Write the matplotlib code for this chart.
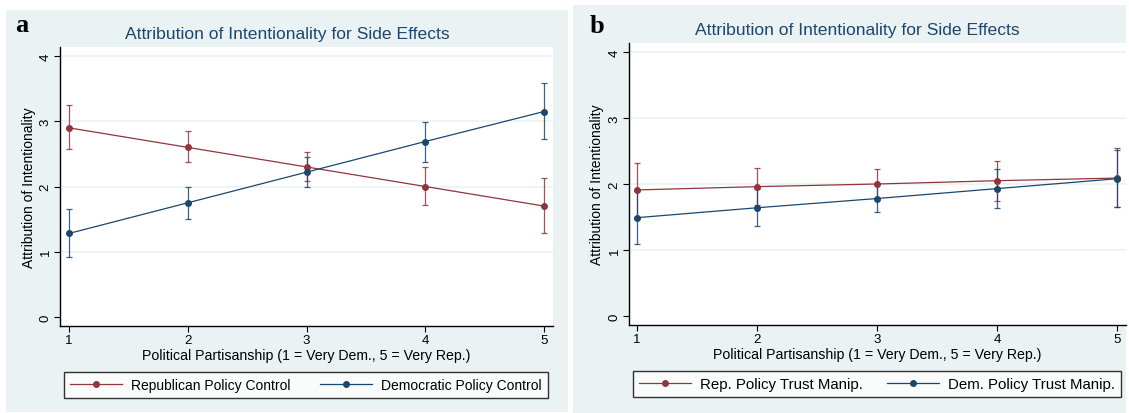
import numpy as np
import matplotlib
matplotlib.use('Agg')
import matplotlib.pyplot as plt
from matplotlib.patches import Rectangle

plt.rcParams['font.family'] = ['Liberation Sans', 'DejaVu Sans']

# data
x = [1, 2, 3, 4, 5]

# panel a
rep_ctrl = [2.90, 2.60, 2.30, 2.00, 1.70]
rep_ctrl_lo = [2.57, 2.37, 2.08, 1.71, 1.28]
rep_ctrl_hi = [3.25, 2.85, 2.53, 2.30, 2.13]
dem_ctrl = [1.28, 1.75, 2.22, 2.69, 3.15]
dem_ctrl_lo = [0.92, 1.50, 2.00, 2.38, 2.73]
dem_ctrl_hi = [1.65, 2.00, 2.45, 2.99, 3.59]

# panel b
rep_trust = [1.91, 1.96, 2.00, 2.05, 2.09]
rep_trust_lo = [1.50, 1.68, 1.77, 1.74, 1.65]
rep_trust_hi = [2.32, 2.24, 2.23, 2.35, 2.54]
dem_trust = [1.49, 1.64, 1.78, 1.93, 2.08]
dem_trust_lo = [1.09, 1.36, 1.57, 1.64, 1.65]
dem_trust_hi = [1.89, 1.92, 2.00, 2.23, 2.51]

title = 'Attribution of Intentionality for Side Effects'
xlab = 'Political Partisanship (1 = Very Dem., 5 = Very Rep.)'
ylab = 'Attribution of Intentionality'

RED = '#90353b'
BLUE = '#1a476f'
BG = '#eaf2f3'
W, H = 1129, 414

fig = plt.figure(figsize=(W / 100, H / 100), dpi=100)
fig.patch.set_facecolor('white')


def px(x0, y0, x1, y1):
  return [x0 / W, 1 - y1 / H, (x1 - x0) / W, (y1 - y0) / H]


def panel(bg, axrect, xlim, ylim, series, labels, leg_c, leg_fs, leg_cs,
          letter, letter_xy, title_xy):
  r = px(*bg)
  fig.patches.append(Rectangle((r[0], r[1]), r[2], r[3], transform=fig.transFigure,
                               facecolor=BG, edgecolor='none', zorder=-10))
  ax = fig.add_axes(px(*axrect))
  ax.set_facecolor('white')
  for (y, lo, hi), col, lab in zip(series, [RED, BLUE], labels):
    y = np.array(y)
    err = [y - np.array(lo), np.array(hi) - y]
    ax.errorbar(x, y, yerr=err, fmt='none', ecolor=col, elinewidth=0.9,
                capsize=2.5, capthick=0.9, alpha=0.85, zorder=2)
    ax.plot(x, y, color=col, lw=0.9, marker='o', ms=4, label=lab, zorder=3)
  ax.set_xlim(*xlim)
  ax.set_ylim(*ylim)
  ax.set_xticks(x)
  ax.set_yticks([0, 1, 2, 3, 4])
  for v in [1, 2, 3, 4]:
    ax.axhline(v, color=BG, lw=1.2, zorder=0)
  for s in ['top', 'right']:
    ax.spines[s].set_visible(False)
  for s in ['left', 'bottom']:
    ax.spines[s].set_linewidth(1.0)
  ax.tick_params(direction='out', length=4, width=0.8, labelsize=9.5, pad=2)
  plt.setp(ax.get_yticklabels(), rotation=90, va='center')
  ax.set_xlabel(xlab, fontsize=10.2, labelpad=1)
  ax.set_ylabel(ylab, fontsize=10, labelpad=3)
  fig.text(title_xy[0] / W, 1 - title_xy[1] / H, title, color=BLUE, fontsize=12.6,
           ha='center', va='center')
  fig.text(letter_xy[0] / W, 1 - letter_xy[1] / H, letter, family='Liberation Serif',
           fontweight='bold', fontsize=19, ha='left', va='baseline')
  hl = 52 / (leg_fs * 100 / 72)
  leg = fig.legend(*ax.get_legend_handles_labels(), loc='center',
                   bbox_to_anchor=(leg_c[0] / W, 1 - leg_c[1] / H), ncol=2,
                   fontsize=leg_fs, frameon=True, fancybox=False,
                   edgecolor='black', borderaxespad=0, handlelength=hl,
                   borderpad=0.4, handletextpad=0.65, columnspacing=leg_cs)
  leg.get_frame().set_linewidth(1.0)
  return ax


panel((6, 11, 568, 413), (60, 48, 553, 327), (0.924, 5.076), (-0.14, 4.14),
      [(rep_ctrl, rep_ctrl_lo, rep_ctrl_hi), (dem_ctrl, dem_ctrl_lo, dem_ctrl_hi)],
      ['Republican Policy Control', 'Democratic Policy Control'],
      (306, 386), 10, 2.15, 'a', (15, 32), (287, 35))

panel((573, 6, 1126, 414), (629, 44, 1126, 326), (0.933, 5.075), (-0.136, 4.136),
      [(rep_trust, rep_trust_lo, rep_trust_hi), (dem_trust, dem_trust_lo, dem_trust_hi)],
      ['Rep. Policy Trust Manip.', 'Dem. Policy Trust Manip.'],
      (877, 385), 10.8, 1.55, 'b', (590, 33), (857, 31))

plt.savefig('out.png', dpi=100, facecolor='white')
